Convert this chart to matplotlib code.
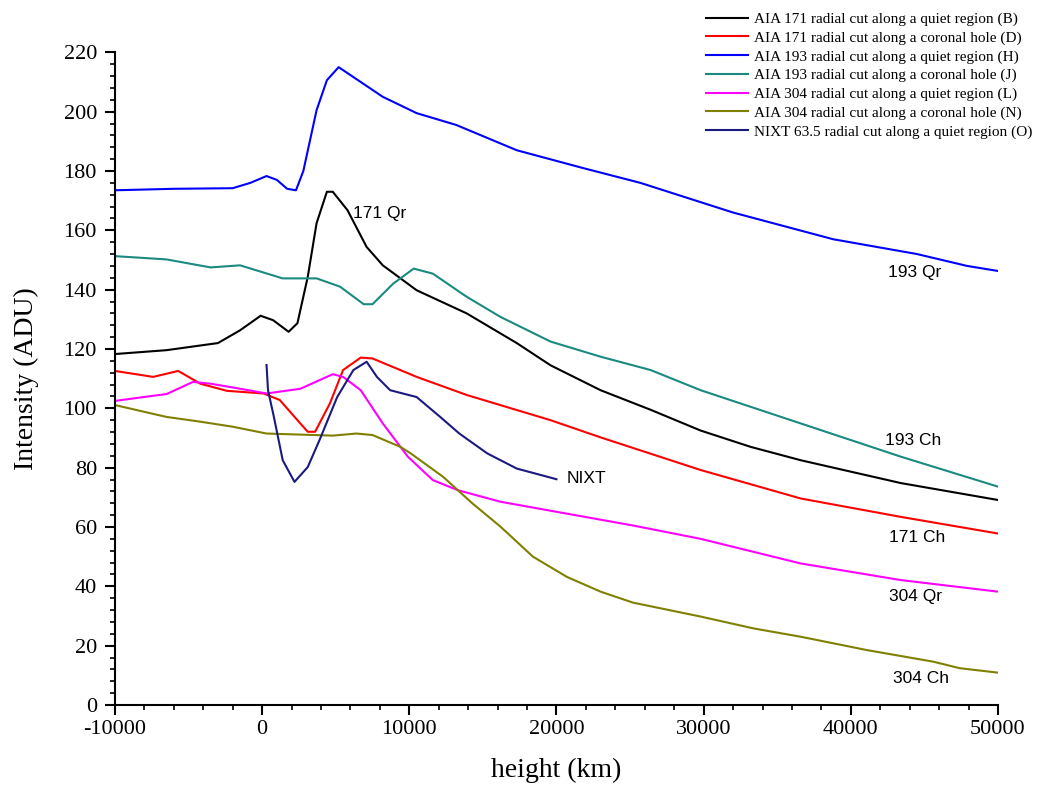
import matplotlib
matplotlib.use('Agg')
import matplotlib.pyplot as plt
from matplotlib.ticker import MultipleLocator, AutoMinorLocator

# AIA 171 quiet region (B)
x_171qr = [-10000, -6500, -3000, -1500, -100, 750, 1800, 2400, 3100, 3700, 4400, 4800, 5800, 7100, 8200,
           10500, 13900, 17300, 19600, 23000, 26400, 29800, 33200, 36600, 43400, 50000]
y_171qr = [118.3, 119.6, 122, 126.3, 131.2, 129.7, 125.8, 128.7, 144.3, 162.4, 173, 173, 166.8, 154.4, 148.2,
           139.8, 132, 122, 114.5, 106.1, 99.5, 92.5, 87, 82.5, 74.8, 69.1]

# AIA 171 coronal hole (D)
x_171ch = [-10000, -7400, -5700, -4200, -2400, 100, 1200, 2400, 3100, 3600, 4600, 5500, 6700, 7500,
           10500, 13900, 19600, 23000, 29800, 36600, 43400, 50000]
y_171ch = [112.6, 110.6, 112.6, 108.3, 105.9, 105, 102.8, 96, 92.1, 92.1, 101.6, 112.9, 117.1, 116.8,
           110.6, 104.5, 96, 90.2, 79.2, 69.6, 63.4, 57.8]

# AIA 193 quiet region (H)
x_193qr = [-10000, -6000, -2000, -800, 300, 1000, 1700, 2300, 2800, 3700, 4400, 5200, 6400, 8200, 10500,
           13200, 17300, 21800, 25700, 32000, 38800, 44500, 47900, 50000]
y_193qr = [173.5, 174, 174.2, 176, 178.3, 177, 174, 173.5, 180, 200.5, 210.6, 215, 211, 205, 199.5,
           195.5, 187, 181, 176, 166, 157, 152, 148, 146.3]

# AIA 193 coronal hole (J)
x_193ch = [-10000, -6500, -3500, -1500, 1400, 3700, 5300, 6900, 7500, 8900, 10300, 11600, 13900, 16200,
           19600, 23000, 26400, 29800, 36600, 43400, 50000]
y_193ch = [151.3, 150.2, 147.5, 148.2, 143.8, 143.8, 141, 135.1, 135.1, 142, 147.1, 145.4, 137.6, 130.8,
           122.5, 117.4, 112.9, 106.1, 94.9, 83.7, 73.6]

# AIA 304 quiet region (L)
x_304qr = [-10000, -7600, -6500, -4700, -3500, -1500, 300, 2600, 4800, 5500, 6700, 8200, 9900, 11600,
           13300, 16200, 20700, 25200, 29800, 36600, 43400, 50000]
y_304qr = [102.5, 104.1, 104.8, 108.9, 108.3, 106.6, 105, 106.6, 111.5, 110.6, 106.1, 94.9, 83.7, 75.8,
           72.4, 68.5, 64.5, 60.5, 56, 47.7, 42.1, 38.2]

# AIA 304 coronal hole (N)
x_304ch = [-10000, -6500, -4200, -2000, 300, 4800, 6400, 7500, 9400, 10100, 12300, 14300, 16200, 18400,
           20700, 23000, 25200, 29800, 33400, 36600, 41100, 45600, 47400, 50000]
y_304ch = [101.1, 97.1, 95.5, 93.8, 91.5, 90.8, 91.5, 91, 87, 84.8, 76.9, 67.9, 60.1, 50,
           43.2, 38.2, 34.5, 29.8, 25.8, 23, 18.5, 14.6, 12.4, 10.9]

# NIXT 63.5 quiet region (O)
x_nixt = [300, 400, 800, 1400, 2200, 3100, 3900, 5100, 6200, 7100, 7800, 8700, 10500, 12100, 13400,
          15300, 17300, 20000]
y_nixt = [114.6, 106.1, 97.1, 82.5, 75.2, 80.2, 89.3, 103.8, 112.9, 115.7, 110.6, 106.1, 103.8, 97.1, 91.5,
          84.8, 79.7, 76.1]

legend_labels = ['AIA 171 radial cut along a quiet region (B)',
                 'AIA 171 radial cut along a coronal hole (D)',
                 'AIA 193 radial cut along a quiet region (H)',
                 'AIA 193 radial cut along a coronal hole (J)',
                 'AIA 304 radial cut along a quiet region (L)',
                 'AIA 304 radial cut along a coronal hole (N)',
                 'NIXT 63.5 radial cut along a quiet region (O)']

curve_text = ['171 Qr', '193 Qr', '193 Ch', 'NIXT', '171 Ch', '304 Qr', '304 Ch']
curve_text_x = [6200, 42500, 42300, 20700, 42600, 42600, 42900]
curve_text_y = [165.8, 145.9, 89.3, 76.5, 56.6, 36.4, 8.8]

serif = ['Liberation Serif', 'DejaVu Serif']
plt.rcParams['axes.unicode_minus'] = False

fig = plt.figure(figsize=(10.45, 7.93), dpi=100)
ax = fig.add_axes([0.110, 0.111, 0.845, 0.823])

lw = 1.5
ax.plot(x_171qr, y_171qr, color='black', lw=lw, label=legend_labels[0])
ax.plot(x_171ch, y_171ch, color='#ff0000', lw=lw, label=legend_labels[1])
ax.plot(x_193qr, y_193qr, color='#0000ff', lw=lw, label=legend_labels[2])
ax.plot(x_193ch, y_193ch, color='#1a8a80', lw=lw, label=legend_labels[3])
ax.plot(x_304qr, y_304qr, color='#ff00ff', lw=lw, label=legend_labels[4])
ax.plot(x_304ch, y_304ch, color='#808000', lw=lw, label=legend_labels[5])
ax.plot(x_nixt, y_nixt, color='#1a1a80', lw=lw, label=legend_labels[6])

for t, tx, ty in zip(curve_text, curve_text_x, curve_text_y):
    ax.text(tx, ty, t, fontsize=12.5, family='Liberation Sans', va='center', ha='left')

ax.set_xlim(-10000, 50000)
ax.set_ylim(0, 220)
ax.xaxis.set_major_locator(MultipleLocator(10000))
ax.xaxis.set_minor_locator(AutoMinorLocator(5))
ax.yaxis.set_major_locator(MultipleLocator(20))
ax.yaxis.set_minor_locator(AutoMinorLocator(5))

for s in ['top', 'right']:
    ax.spines[s].set_visible(False)
for s in ['left', 'bottom']:
    ax.spines[s].set_linewidth(1.5)

ax.tick_params(which='major', direction='out', length=7, width=1.5, labelsize=16)
ax.tick_params(axis='y', which='major', pad=6)
ax.tick_params(which='minor', direction='out', length=3.5, width=1.2)
for lab in ax.get_xticklabels() + ax.get_yticklabels():
    lab.set_family(serif)

ax.set_xlabel('height (km)', fontsize=20, family=serif, labelpad=14)
ax.set_ylabel('Intensity (ADU)', fontsize=20, family=serif, labelpad=18)

fig.legend(loc='upper right', bbox_to_anchor=(0.998, 0.998), frameon=False,
           prop={'family': serif, 'size': 11}, handlelength=2.8, handletextpad=0.35,
           labelspacing=0.32, borderpad=0.2)

fig.savefig('out.png', dpi=100)
